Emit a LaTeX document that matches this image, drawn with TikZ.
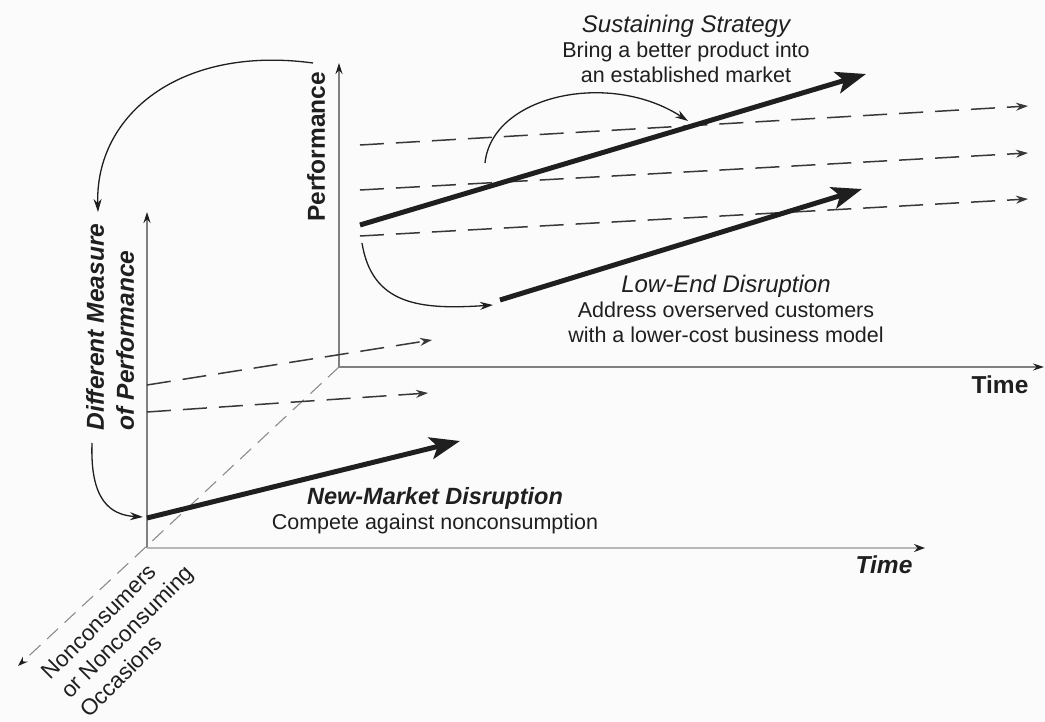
\documentclass[tikz,border=0pt]{standalone}
\usepackage{fontspec}
\setmainfont{Liberation Sans}
\usetikzlibrary{arrows.meta}
\definecolor{axisgray}{gray}{0.5}
\definecolor{lightaxis}{gray}{0.72}
\definecolor{dashgray}{gray}{0.22}
\definecolor{diaggray}{gray}{0.55}
\definecolor{txt}{gray}{0.12}
\definecolor{bg}{gray}{0.985}
\begin{document}
\begin{tikzpicture}[x=1pt,y=-1pt,
  axisline/.style={draw=axisgray, line width=1.2pt, -{Stealth[length=11pt,width=7pt,color=txt]}},
  frontaxis/.style={draw=lightaxis, line width=2.2pt, -{Stealth[length=11pt,width=8pt,color=txt]}},
  diagline/.style={draw=diaggray, line width=1.1pt, dash pattern=on 15pt off 9pt, -{Stealth[length=10pt,width=7pt,color=txt]}},
  dashline/.style={draw=dashgray, line width=1.5pt, dash pattern=on 24pt off 12pt, -{Stealth[length=12pt,width=8pt]}},
  thickarrow/.style={draw=txt, line width=5pt, -{Stealth[length=30pt,width=22pt,inset=7pt]}},
  curvearrow/.style={draw=txt, line width=1.3pt, -{Stealth[length=13pt,width=8pt]}},
  bodytext/.style={text=txt, align=center, font=\fontsize{21.5}{25}\selectfont, inner sep=0pt},
  axislabel/.style={text=txt, font=\fontsize{24.5}{28}\selectfont\bfseries, inner sep=0pt},
]
\fill[bg] (0,0) rectangle (1045,722);
\useasboundingbox (0,0) rectangle (1045,722);

% ---- coordinates ----
\coordinate (O2) at (339,367);
\coordinate (PerfTop) at (339,63);
\coordinate (TimeEndB) at (1044,367);
\coordinate (O1) at (147,548);
\coordinate (DMTop) at (147,212);
\coordinate (TimeEndF) at (925,548);
\coordinate (NCEnd) at (18,666);

\coordinate (d1s) at (360,145); \coordinate (d1e) at (1028,106);
\coordinate (d2s) at (360,190); \coordinate (d2e) at (1028,153);
\coordinate (d3s) at (360,236); \coordinate (d3e) at (1028,199);

\coordinate (sus1) at (360,225); \coordinate (sus2) at (866,74);
\coordinate (low1) at (500,300); \coordinate (low2) at (862,189);
\coordinate (new1) at (147,518); \coordinate (new2) at (460,441);

\coordinate (f1s) at (147,385); \coordinate (f1e) at (432,340);
\coordinate (f2s) at (147,412); \coordinate (f2e) at (428,393);

\coordinate (c1s) at (485,163); \coordinate (c1e) at (688,121);
\coordinate (c2s) at (362,243); \coordinate (c2e) at (493,305);
\coordinate (c3s) at (313,63);  \coordinate (c3e) at (98,212);
\coordinate (c4s) at (92,443);  \coordinate (c4e) at (143,517);

% ---- axes ----
\draw[diagline] (O2) -- (NCEnd);
\draw[axisline] (O2) -- (PerfTop);
\draw[axisline] (O2) -- (TimeEndB);
\draw[axisline] (O1) -- (DMTop);
\draw[frontaxis] (O1) -- (TimeEndF);

% ---- dashed trajectories ----
\draw[dashline] (d1s) -- (d1e);
\draw[dashline] (d2s) -- (d2e);
\draw[dashline] (d3s) -- (d3e);
\draw[dashline] (f1s) -- (f1e);
\draw[dashline] (f2s) -- (f2e);

% ---- thick strategy arrows ----
\draw[thickarrow] (sus1) -- (sus2);
\draw[thickarrow] (low1) -- (low2);
\draw[thickarrow] (new1) -- (new2);

% ---- curved arrows ----
\draw[curvearrow] (c1s) .. controls (492,95) and (610,70) .. (c1e);
\draw[curvearrow] (c2s) .. controls (372,305) and (420,310) .. (c2e);
\draw[curvearrow] (c3s) .. controls (180,45) and (95,115) .. (c3e);
\draw[curvearrow] (c4s) .. controls (90,500) and (110,515) .. (c4e);

% ---- labels ----
\node[bodytext] (sus) at (686,49) {{\fontsize{24}{25}\selectfont\itshape Sustaining Strategy}\\Bring a better product into\\an established market};
\node[bodytext] (low) at (726,309) {{\fontsize{24}{25}\selectfont\itshape Low-End Disruption}\\Address overserved customers\\with a lower-cost business model};
\node[bodytext] (new) at (435,511) {{\fontsize{23.5}{25}\selectfont\bfseries\itshape New-Market Disruption}\\Compete against nonconsumption};

\node[axislabel, rotate=90] (perf) at (316,147) {Performance};
\node[axislabel, anchor=base] (timeB) at (1000,393) {Time};
\node[axislabel, anchor=base] (timeF) at (884,573) {\itshape Time};
\node[axislabel, rotate=90, align=left, font=\fontsize{24.5}{30}\selectfont\bfseries\itshape] (dm) at (110,327) {Different Measure\\of Performance};
\node[text=txt, inner sep=0pt, rotate=45, align=left, font=\fontsize{22.5}{27}\selectfont] (nc) at (127,632) {Nonconsumers\\or Nonconsuming\\Occasions};
\end{tikzpicture}
\end{document}
